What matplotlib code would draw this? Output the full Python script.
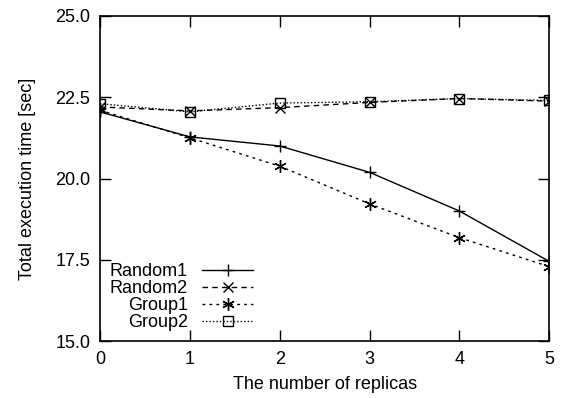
import matplotlib
matplotlib.use("Agg")
import matplotlib.pyplot as plt

plt.rcParams["font.family"] = ["Liberation Sans", "DejaVu Sans"]

# ── data ─────────────────────────────────────────────────────────────
replicas = [0, 1, 2, 3, 4, 5]
random1 = [22.05, 21.28, 21.00, 20.19, 19.00, 17.45]
random2 = [22.20, 22.08, 22.18, 22.34, 22.46, 22.38]
group1 = [22.10, 21.25, 20.38, 19.22, 18.18, 17.29]
group2 = [22.30, 22.05, 22.32, 22.36, 22.46, 22.40]
y_ticks = [15.0, 17.5, 20.0, 22.5, 25.0]

# ── figure ───────────────────────────────────────────────────────────
fig = plt.figure(figsize=(5.68, 3.98), dpi=100)
ax = fig.add_axes([0.176, 0.143, 0.791, 0.817])

ax.plot(replicas, random1, color="black", linestyle="-", linewidth=1.0,
        marker="+", markersize=9, markeredgewidth=1.0, label="Random1")
ax.plot(replicas, random2, color="black", linestyle=(0, (4, 3)), linewidth=1.0,
        marker="x", markersize=7, markeredgewidth=1.0, label="Random2")
ax.plot(replicas, group1, color="black", linestyle=(0, (2, 3)), linewidth=1.0,
        marker=(6, 2, 0), markersize=9, markeredgewidth=1.0, label="Group1")
ax.plot(replicas, group2, color="black", linestyle=(0, (1, 1.5)), linewidth=1.0,
        marker="s", markersize=7, markerfacecolor="none", markeredgewidth=1.0,
        label="Group2")

# ── cosmetics ────────────────────────────────────────────────────────
ax.set_xlim(0, 5)
ax.set_ylim(15, 25)
ax.set_xticks(replicas)
ax.set_yticks(y_ticks)
ax.set_yticklabels([f"{v:.1f}" for v in y_ticks])
ax.tick_params(direction="in", length=8, width=1.0, labelsize=13,
               top=True, right=True, pad=7)
for s in ax.spines.values():
    s.set_linewidth(1.2)

ax.set_xlabel("The number of replicas", fontsize=13, labelpad=6)
ax.set_ylabel("Total execution time [sec]", fontsize=13, labelpad=14)

ax.legend(loc="lower left", bbox_to_anchor=(0.0, 0.0), markerfirst=False,
          frameon=False, fontsize=13, handlelength=2.8, handletextpad=0.8,
          labelspacing=0.0, borderaxespad=0.15)

fig.savefig("out.png", dpi=100)
